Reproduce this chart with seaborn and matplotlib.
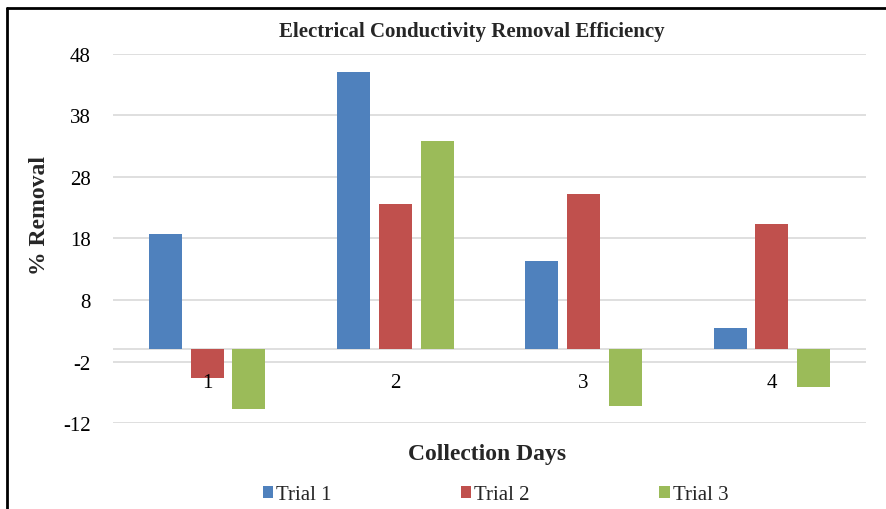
import matplotlib
matplotlib.use("Agg")
import matplotlib.pyplot as plt
from matplotlib.lines import Line2D
import seaborn as sns
import pandas as pd

# Removal efficiency (%) per collection day for three trials
days = ["1", "2", "3", "4"]
trial_names = ["Trial 1", "Trial 2", "Trial 3"]
trial_1 = [18.7, 45.1, 14.4, 3.5]
trial_2 = [-4.7, 23.6, 25.3, 20.3]
trial_3 = [-9.7, 33.9, -9.2, -6.2]
y_ticks = [-12, -2, 8, 18, 28, 38, 48]
colors = ["#4F81BD", "#C0504D", "#9BBB59"]

df = pd.DataFrame({
    "Day": days * 3,
    "Trial": [t for t in trial_names for _ in days],
    "Removal": trial_1 + trial_2 + trial_3,
})

sns.set_theme(style="white")
plt.rcParams["font.family"] = ["Liberation Serif", "DejaVu Serif"]

fig = plt.figure(figsize=(8.86, 5.10), dpi=100)
ax = fig.add_axes([0.1275, 0.1686, 0.8499, 0.7236])

sns.barplot(data=df, x="Day", y="Removal", hue="Trial", order=days,
            hue_order=trial_names, palette=colors, width=0.665, gap=0.21,
            linewidth=0, saturation=1, ax=ax, zorder=1)

ax.set_ylim(-12, 48)
ax.set_xlim(-0.5, 3.5)
ax.set_yticks(y_ticks)
ax.set_yticklabels([str(v) for v in y_ticks])

# Gridlines and the zero baseline sit behind the bars, tick labels stay on top
for v in y_ticks:
    ax.axhline(v, color="#d9d9d9", linewidth=1.2, zorder=0)
ax.axhline(0, color="#d9d9d9", linewidth=1.2, zorder=0)
ax.set_axisbelow(False)

# Category labels hang just below the zero baseline
ax.spines["bottom"].set_position(("data", 0))
for side in ["top", "right", "left", "bottom"]:
    ax.spines[side].set_visible(False)

ax.tick_params(axis="x", length=0, pad=17, labelsize=15, colors="black")
ax.tick_params(axis="y", length=0, pad=16, labelsize=15, colors="black")
ax.set_xlabel("")
ax.set_ylabel("")

fig.text(0.532, 0.937, "Electrical Conductivity Removal Efficiency",
         ha="center", va="center", fontsize=15, fontweight="bold")
fig.text(0.045, 0.578, "% Removal", rotation=90, ha="center", va="center",
         fontsize=17, fontweight="bold")
fig.text(0.5497, 0.108, "Collection Days", ha="center", va="center",
         fontsize=17, fontweight="bold")

sns.move_legend(ax, "center", bbox_to_anchor=(0.508, -0.195), ncol=3,
                frameon=False, title=None, fontsize=15, handlelength=0.5,
                handleheight=0.5, handletextpad=0.15, columnspacing=6.2)

# Frame lines along the left and top edges of the figure
fig.add_artist(Line2D([7 / 886, 7 / 886], [0, 1 - 9 / 510],
                      transform=fig.transFigure, color="black", linewidth=2))
fig.add_artist(Line2D([7 / 886, 1], [1 - 9 / 510, 1 - 9 / 510],
                      transform=fig.transFigure, color="black", linewidth=2))

fig.savefig("out.png", dpi=100, facecolor="white")
